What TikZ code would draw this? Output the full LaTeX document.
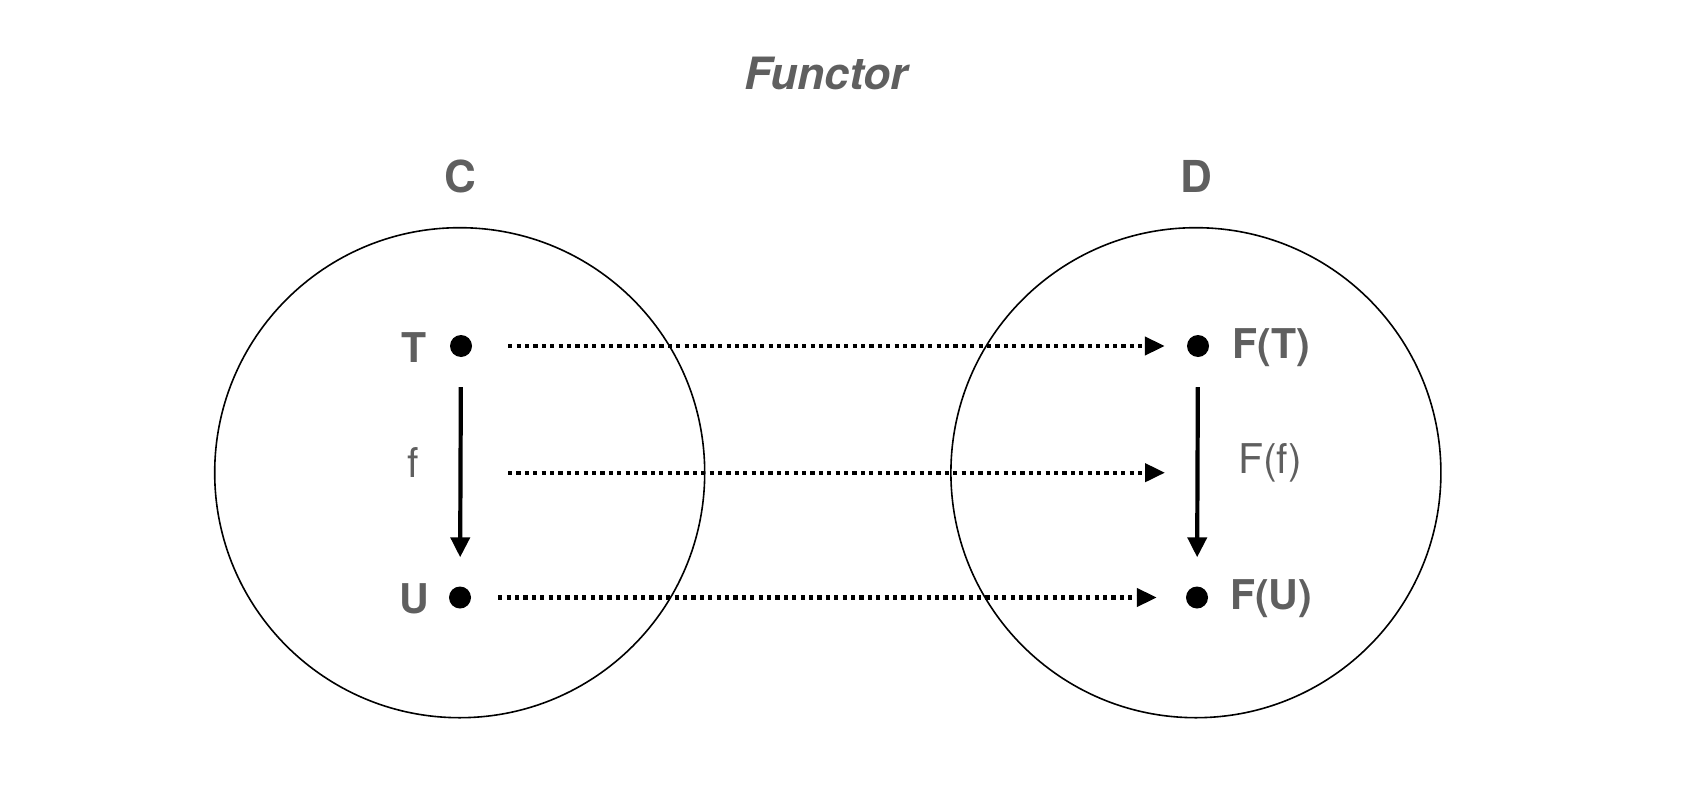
\documentclass[tikz,border=0pt]{standalone}
\usepackage{fontspec}
\setmainfont{TeX Gyre Heros}
\usetikzlibrary{arrows.meta}
\definecolor{txtgray}{HTML}{5F5F5F}
\tikzset{
  dotnode/.style={circle,fill=black,inner sep=0pt,minimum size=22pt},
  boldlbl/.style={text=txtgray,font=\fontsize{41}{41}\selectfont\bfseries,inner sep=0pt},
  plainlbl/.style={text=txtgray,font=\fontsize{41}{41}\selectfont,inner sep=0pt},
  catcircle/.style={draw=black,line width=1.6pt},
  morph/.style={line width=4.2pt,-{Triangle[width=19pt,length=20pt]}},
  functarrow/.style={line width=4.2pt,dash pattern=on 4.2pt off 4.2pt,-{Triangle[width=18pt,length=20pt]}}
}
\begin{document}
\begin{tikzpicture}[x=1pt,y=-1pt]
\useasboundingbox (0,0) rectangle (1700,792);
% categories
\draw[catcircle] (459.7,472.7) circle[radius=245];
\draw[catcircle] (1195.9,472.7) circle[radius=245];
% title and category labels
\node[text=txtgray,font=\fontsize{44.5}{44.5}\selectfont\bfseries\itshape,inner sep=0pt] (title) at (826,73.7) {Functor};
\node[boldlbl,font=\fontsize{44}{44}\selectfont\bfseries] (C) at (460,176) {C};
\node[boldlbl,font=\fontsize{44}{44}\selectfont\bfseries] (D) at (1196,176) {D};
% objects
\node[dotnode] (T) at (461,346) {};
\node[dotnode] (U) at (460,597.5) {};
\node[dotnode] (FT) at (1198,346) {};
\node[dotnode] (FU) at (1197,597.5) {};
\node[boldlbl] (Tl) at (414.5,348) {T};
\node[boldlbl] (Ul) at (414,598.5) {U};
\node[boldlbl] (FTl) at (1271,348) {F(T)};
\node[boldlbl] (FUl) at (1271,599) {F(U)};
\node[plainlbl] (fl) at (413,462) {f};
\node[plainlbl] (Ffl) at (1270,463) {F(f)};
% morphisms
\draw[morph,shorten <=30pt,shorten >=29pt] (T) -- (U);
\draw[morph,shorten <=30pt,shorten >=29pt] (FT) -- (FU);
% functor arrows
\coordinate (ml) at (508,472.7);
\coordinate (mr) at (1165,472.7);
\draw[functarrow,shorten <=36pt,shorten >=22pt] (T) -- (FT);
\draw[functarrow] (ml) -- (mr);
\draw[functarrow,shorten <=27pt,shorten >=29pt] (U) -- (FU);
\end{tikzpicture}
\end{document}
